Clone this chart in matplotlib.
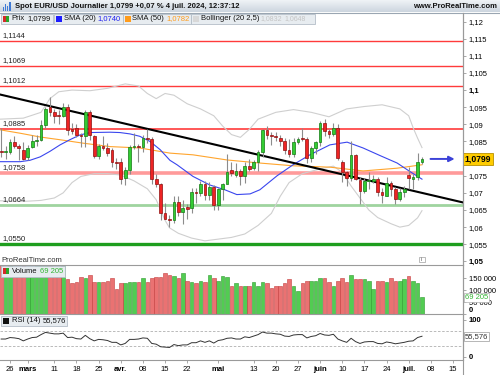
import matplotlib
matplotlib.use("Agg")
import matplotlib.pyplot as plt
import matplotlib.transforms as mtrans
from matplotlib.patches import Rectangle
from matplotlib.colors import LinearSegmentedColormap
import numpy as np

plt.rcParams['font.family'] = ['Liberation Sans', 'DejaVu Sans']

# trading day index, 0 = Mon 26 Feb 2024, 93 = Thu 4 Jul 2024
day = np.arange(-2, 94)

opens = [1.0822, 1.0818, 1.0820, 1.0849, 1.0837, 1.0826, 1.0805, 1.0834, 1.0852, 1.0855,
         1.0898, 1.0950, 1.0936, 1.0926, 1.0925, 1.0950, 1.0887, 1.0890, 1.0868, 1.0865,
         1.0935, 1.0866, 1.0808, 1.0837, 1.0832, 1.0825, 1.0790, 1.0790, 1.0742, 1.0768,
         1.0835, 1.0837, 1.0834, 1.0860, 1.0856, 1.0740, 1.0725, 1.0642, 1.0625, 1.0620,
         1.0672, 1.0644, 1.0658, 1.0655, 1.0703, 1.0700, 1.0727, 1.0693, 1.0718, 1.0665,
         1.0712, 1.0727, 1.0766, 1.0752, 1.0765, 1.0748, 1.0779, 1.0772, 1.0789, 1.0818,
         1.0884, 1.0868, 1.0866, 1.0860, 1.0852, 1.0825, 1.0812, 1.0848, 1.0860, 1.0857,
         1.0801, 1.0830, 1.0847, 1.0903, 1.0880, 1.0872, 1.0890, 1.0790, 1.0762, 1.0742,
         1.0811, 1.0738, 1.0704, 1.0736, 1.0734, 1.0741, 1.0703, 1.0692, 1.0730, 1.0712,
         1.0681, 1.0703, 1.0752, 1.0740, 1.0746, 1.0791]
highs = [1.0888, 1.0838, 1.0857, 1.0865, 1.0842, 1.0848, 1.0840, 1.0868, 1.0868, 1.0912,
         1.0951, 1.0981, 1.0945, 1.0941, 1.0963, 1.0958, 1.0905, 1.0900, 1.0875, 1.0943,
         1.0942, 1.0870, 1.0842, 1.0865, 1.0845, 1.0830, 1.0803, 1.0802, 1.0775, 1.0840,
         1.0876, 1.0842, 1.0868, 1.0885, 1.0864, 1.0756, 1.0730, 1.0670, 1.0634, 1.0690,
         1.0690, 1.0678, 1.0668, 1.0713, 1.0714, 1.0734, 1.0735, 1.0732, 1.0723, 1.0715,
         1.0728, 1.0812, 1.0790, 1.0788, 1.0770, 1.0790, 1.0800, 1.0797, 1.0826, 1.0887,
         1.0895, 1.0879, 1.0878, 1.0870, 1.0860, 1.0858, 1.0859, 1.0863, 1.0889, 1.0863,
         1.0838, 1.0852, 1.0910, 1.0915, 1.0885, 1.0903, 1.0902, 1.0795, 1.0765, 1.0852,
         1.0814, 1.0745, 1.0742, 1.0761, 1.0752, 1.0746, 1.0715, 1.0745, 1.0735, 1.0718,
         1.0715, 1.0720, 1.0776, 1.0754, 1.0815, 1.0804]
lows = [1.0805, 1.0800, 1.0813, 1.0832, 1.0796, 1.0796, 1.0797, 1.0830, 1.0838, 1.0850,
        1.0890, 1.0925, 1.0905, 1.0900, 1.0920, 1.0868, 1.0873, 1.0862, 1.0835, 1.0835,
        1.0855, 1.0802, 1.0800, 1.0825, 1.0808, 1.0775, 1.0770, 1.0726, 1.0724, 1.0754,
        1.0827, 1.0791, 1.0820, 1.0845, 1.0727, 1.0716, 1.0622, 1.0623, 1.0601, 1.0612,
        1.0632, 1.0610, 1.0623, 1.0640, 1.0671, 1.0690, 1.0678, 1.0678, 1.0650, 1.0650,
        1.0680, 1.0725, 1.0750, 1.0745, 1.0723, 1.0728, 1.0763, 1.0768, 1.0765, 1.0806,
        1.0856, 1.0840, 1.0850, 1.0836, 1.0813, 1.0805, 1.0805, 1.0843, 1.0850, 1.0788,
        1.0790, 1.0812, 1.0836, 1.0865, 1.0860, 1.0866, 1.0797, 1.0733, 1.0721, 1.0735,
        1.0738, 1.0668, 1.0700, 1.0710, 1.0730, 1.0690, 1.0670, 1.0690, 1.0690, 1.0667,
        1.0677, 1.0688, 1.0710, 1.0710, 1.0738, 1.0785]
closes = [1.0818, 1.0822, 1.0849, 1.0837, 1.0830, 1.0799, 1.0832, 1.0852, 1.0854, 1.0898,
          1.0946, 1.0937, 1.0925, 1.0925, 1.0950, 1.0882, 1.0880, 1.0868, 1.0865, 1.0935,
          1.0868, 1.0808, 1.0836, 1.0832, 1.0815, 1.0790, 1.0788, 1.0741, 1.0768, 1.0835,
          1.0837, 1.0834, 1.0860, 1.0856, 1.0740, 1.0725, 1.0642, 1.0625, 1.0620, 1.0672,
          1.0644, 1.0655, 1.0654, 1.0703, 1.0700, 1.0727, 1.0693, 1.0718, 1.0665, 1.0712,
          1.0725, 1.0760, 1.0758, 1.0765, 1.0748, 1.0779, 1.0770, 1.0790, 1.0818, 1.0883,
          1.0868, 1.0865, 1.0862, 1.0852, 1.0825, 1.0812, 1.0848, 1.0858, 1.0857, 1.0801,
          1.0830, 1.0848, 1.0903, 1.0880, 1.0872, 1.0888, 1.0802, 1.0762, 1.0743, 1.0811,
          1.0740, 1.0704, 1.0736, 1.0737, 1.0741, 1.0703, 1.0693, 1.0730, 1.0712, 1.0681,
          1.0703, 1.0711, 1.0742, 1.0746, 1.0791, 1.0799]

volume = [200000, 190000, 205000, 198000, 195000, 210000, 192000, 188000, 200000, 205000,
          215000, 210000, 195000, 190000, 200000, 145000, 128000, 135000, 155000, 150000,
          165000, 135000, 135000, 135000, 140000, 150000, 105000, 128000, 128000, 135000,
          135000, 135000, 150000, 133000, 152000, 155000, 155000, 170000, 163000, 157000,
          150000, 170000, 140000, 135000, 128000, 138000, 135000, 163000, 150000, 140000,
          157000, 155000, 117000, 128000, 117000, 117000, 117000, 133000, 117000, 133000,
          128000, 108000, 117000, 117000, 128000, 145000, 117000, 95000, 128000, 138000,
          140000, 138000, 150000, 150000, 135000, 117000, 140000, 150000, 135000, 163000,
          145000, 145000, 145000, 140000, 104000, 138000, 138000, 135000, 150000, 138000,
          140000, 145000, 160000, 140000, 128000, 69205]

rsi = [48, 48, 52, 51, 49, 43, 48, 52, 53, 60, 66, 64, 62, 62, 64, 52, 53, 49, 48, 58,
       49, 43, 47, 46, 44, 39, 39, 32, 36, 47, 47, 48, 51, 50, 36, 34, 27, 26, 25, 33,
       30, 32, 32, 38, 38, 43, 39, 43, 37, 44, 46, 50, 51, 48, 48, 54, 52, 56, 60, 67,
       64, 64, 62, 61, 56, 55, 59, 60, 60, 51, 55, 57, 63, 59, 58, 61, 48, 43, 39, 50,
       41, 36, 40, 41, 41, 36, 35, 40, 38, 35, 37, 39, 42, 43, 52, 55.576]

# indicator lines at a few days
sma20_day = [-2.26, 2.3, 4.5, 6.8, 9.0, 11.3, 13.5, 15.8, 18.1, 22.6, 24.8, 27.1, 29.3,
             31.6, 33.9, 36.1, 37.7, 41.3, 45.1, 48.5, 51.2, 54.2, 56.4, 60.3, 63.9, 67.7,
             72.2, 76.1, 79.7, 83.5, 87.4, 90.3, 93]
sma20_val = [1.0791, 1.0791, 1.0795, 1.0805, 1.0821, 1.0840, 1.0855, 1.0869, 1.0876,
             1.0877, 1.0876, 1.0872, 1.0865, 1.0850, 1.0826, 1.0795, 1.0782, 1.0748,
             1.0723, 1.0709, 1.0695, 1.0697, 1.0709, 1.0750, 1.0782, 1.0811, 1.0840,
             1.0848, 1.0831, 1.0809, 1.0787, 1.0762, 1.0740]
sma50_day = [-2.26, 2.3, 6.8, 11.3, 16.5, 22.6, 29.3, 36.1, 41.3, 49, 56.4, 63.9, 72.2,
             79.7, 87.4, 93]
sma50_val = [1.0884, 1.0874, 1.0863, 1.0855, 1.0845, 1.0835, 1.0831, 1.0816, 1.0811,
             1.0796, 1.0787, 1.0779, 1.0775, 1.0764, 1.0772, 1.0782]
boll_up_day = [-2.26, 3, 7, 9, 11, 14, 18, 22, 26, 29, 31, 33, 35, 37, 40, 43, 46, 48,
               50, 52, 54, 56, 60, 64, 68, 72, 76, 80, 84, 88, 90, 91, 92, 93]
boll_up_val = [1.0915, 1.0918, 1.0935, 1.0975, 1.0995, 1.1000, 1.0998, 1.1005, 1.1018,
               1.1012, 1.0990, 1.0975, 1.0990, 1.0985, 1.0960, 1.0945, 1.0925, 1.0895,
               1.0870, 1.0862, 1.0885, 1.0915, 1.0935, 1.0943, 1.0935, 1.0922, 1.0945,
               1.0952, 1.0957, 1.0945, 1.0925, 1.0890, 1.0860, 1.0832]
boll_lo_day = [-2.26, 3, 7, 10, 12, 14, 16, 19, 22, 25, 28, 31, 33, 34, 35, 36, 38, 41,
               44, 47, 50, 53, 56, 59, 61, 63, 66, 70, 73, 75, 77, 79, 81, 83, 86, 88, 90,
               92, 93]
boll_lo_val = [1.0677, 1.0675, 1.0678, 1.0685, 1.0700, 1.0730, 1.0748, 1.0756, 1.0756,
               1.0752, 1.0735, 1.0712, 1.0680, 1.0650, 1.0620, 1.0598, 1.0582, 1.0568,
               1.0560, 1.0565, 1.0570, 1.0580, 1.0605, 1.0640, 1.0690, 1.0730, 1.0756,
               1.0770, 1.0778, 1.0760, 1.0720, 1.0685, 1.0650, 1.0628, 1.0610, 1.0600,
               1.0605, 1.0627, 1.0648]

# horizontal levels and trend line drawn on the chart
levels = [1.1144, 1.1069, 1.1012, 1.0885, 1.0758, 1.0664, 1.0550]
level_labels = ['1,1144', '1,1069', '1,1012', '1,0885', '1,0758', '1,0664', '1,0550']
trend_day = [-2.26, 102.26]
trend_price = [1.0987, 1.0672]

last_price = 1.0799
tick_days = [0, 4, 10, 15, 20, 25, 30, 35, 40, 47, 55, 60, 65, 70, 75, 80, 85, 90, 95, 100]
tick_labels = ['26', 'mars', '11', '18', '25', 'avr.', '08', '15', '22', 'mai', '13', '20',
               '27', 'juin', '10', '17', '24', 'juil.', '08', '15']
month_labels = ['mars', 'avr.', 'mai', 'juin', 'juil.']

o = np.array(opens); h = np.array(highs); l = np.array(lows); c = np.array(closes)
up = c >= o

W, H = 500, 375
fig = plt.figure(figsize=(5, 3.75), dpi=100)
fig.patch.set_facecolor('white')

def frac(x0, y0, x1, y1):
    return [x0 / W, 1 - y1 / H, (x1 - x0) / W, (y1 - y0) / H]

ax = fig.add_axes(frac(0, 12.5, 463, 265))
ax_v = fig.add_axes(frac(0, 265, 463, 314))
ax_r = fig.add_axes(frac(0, 314, 463, 360))
FS = 5.5
AXC = '#9a9a9a'

for a in (ax, ax_v, ax_r):
    a.set_xlim(-2.26, 102.26)
    for s in ('left', 'top', 'bottom'):
        a.spines[s].set_visible(False)
    a.spines['right'].set_color(AXC)
    a.spines['right'].set_linewidth(0.8)
    a.yaxis.tick_right()
    a.tick_params(axis='y', direction='out', length=2.5, width=0.6, color=AXC,
                  labelsize=FS, pad=1.5)
    a.tick_params(axis='x', bottom=False, labelbottom=False)
ax_v.spines['top'].set_visible(True)
ax_v.spines['top'].set_color(AXC)
ax_r.spines['top'].set_visible(True)
ax_r.spines['top'].set_color(AXC)
ax_r.spines['bottom'].set_visible(True)
ax_r.spines['bottom'].set_color(AXC)

# ---- price pane
ax.set_ylim(1.04895, 1.12263)
ptick = np.round(np.arange(1.05, 1.1201, 0.005), 3)
ax.set_yticks(ptick)
plabels = []
for v in ptick:
    s = ('%.3f' % v).rstrip('0').replace('.', ',')
    # 1,08 sits under the last price tag
    plabels.append('' if abs(v - 1.08) < 1e-9 else s)
ax.set_yticklabels(plabels)
for v, t in zip(ptick, ax.get_yticklabels()):
    if abs(v - 1.1) < 1e-9 or abs(v - 1.05) < 1e-9:
        t.set_fontweight('bold')

lvl_style = [('#ff3b3b', 1.0), ('#ff3b3b', 1.0), ('#ff3b3b', 1.0), ('#ff2a2a', 1.1),
             ('#ff9a9a', 2.6), ('#9fd49f', 2.0), ('#1e9e1e', 2.4)]
lbl_tr = mtrans.blended_transform_factory(ax.transAxes, ax.transData)
for lv, lab, (col, lw) in zip(levels, level_labels, lvl_style):
    ax.axhline(lv, color=col, lw=lw, zorder=1)
    ax.text(0.006, lv + 0.0006, lab, transform=lbl_tr, fontsize=FS, color='#222222',
            va='bottom', ha='left', zorder=6)

ax.plot(boll_up_day, boll_up_val, color='#cfcfcf', lw=0.8, zorder=2)
ax.plot(boll_lo_day, boll_lo_val, color='#cfcfcf', lw=0.8, zorder=2)
ax.plot(sma50_day, sma50_val, color='#ffa52e', lw=0.8, zorder=3)
ax.plot(sma20_day, sma20_val, color='#3a46ee', lw=0.8, zorder=3)
ax.plot(trend_day, trend_price, color='black', lw=1.5, zorder=3)

ax.vlines(day, l, h, color='#8c8c8c', lw=0.8, zorder=4)
body = np.maximum(np.abs(c - o), 0.00012)
ax.bar(day[up], body[up], bottom=np.minimum(o, c)[up], width=0.62, color='#33cc33',
       edgecolor='#137a13', lw=0.5, zorder=5)
ax.bar(day[~up], body[~up], bottom=np.minimum(o, c)[~up], width=0.62, color='#ee2424',
       edgecolor='#8e1010', lw=0.5, zorder=5)

ax.annotate('', xy=(101.0, last_price), xytext=(94.3, last_price),
            arrowprops=dict(arrowstyle='-|>', color='#3c42d8', lw=1.4, mutation_scale=8),
            zorder=6)
ax.text(1.004, last_price, '1,0799', transform=lbl_tr, fontsize=6.2, fontweight='bold',
        va='center', ha='left', clip_on=False,
        bbox=dict(boxstyle='square,pad=0.2', fc='#ffcc00', ec='#b89000', lw=0.6))

# ---- volume pane
ax_v.set_ylim(0, 205000)
ax_v.set_yticks([0, 50000, 100000, 150000])
ax_v.set_yticklabels(['0', '50 000', '100 000', '150 000'])
zero_lbl = ax_v.get_yticklabels()[0]
zero_lbl.set_fontweight('bold')
zero_lbl.set_verticalalignment('bottom')
vol = np.array(volume)
ax_v.bar(day[up], vol[up], width=0.8, color='#52cc52', edgecolor='#2c9a2c', lw=0.4)
ax_v.bar(day[~up], vol[~up], width=0.8, color='#ea7272', edgecolor='#c43c3c', lw=0.4)
vtr = mtrans.blended_transform_factory(ax_v.transAxes, ax_v.transData)
ax_v.text(1.004, volume[-1], '69 205', transform=vtr, fontsize=FS, color='#33b533',
          va='center', ha='left', clip_on=False,
          bbox=dict(boxstyle='square,pad=0.15', fc='white', ec='#b0b0b0', lw=0.5))

# ---- RSI pane
ax_r.set_ylim(-9, 116)
ax_r.set_yticks([0, 100])
ax_r.set_yticklabels(['0', '100'], fontweight='bold')
ax_r.axhline(70, color='#b0b0b0', lw=0.6, ls=(0, (3, 2)))
ax_r.axhline(30, color='#b0b0b0', lw=0.6, ls=(0, (3, 2)))
ax_r.plot(day, rsi, color='#333333', lw=0.7)
rtr = mtrans.blended_transform_factory(ax_r.transAxes, ax_r.transData)
ax_r.text(1.004, rsi[-1], '55,576', transform=rtr, fontsize=FS, color='#333333',
          va='center', ha='left', clip_on=False,
          bbox=dict(boxstyle='square,pad=0.15', fc='white', ec='#9a9a9a', lw=0.5))
ax_r.set_xticks(tick_days)
ax_r.set_xticklabels(tick_labels)
ax_r.tick_params(axis='x', bottom=True, labelbottom=True, direction='out', length=2.5,
                 width=0.6, color=AXC, labelsize=FS, pad=1.5)
for t in ax_r.get_xticklabels():
    if t.get_text() in month_labels:
        t.set_fontweight('bold')

# ---- overlay: title bar, legends, captions
ov = fig.add_axes([0, 0, 1, 1], zorder=10)
ov.axis('off')
grad = LinearSegmentedColormap.from_list('bar', ['#f2f5f8', '#cdd6df'])
ov.imshow(np.linspace(0, 1, 16).reshape(-1, 1), cmap=grad, extent=[0, 500, 12.5, 0],
          aspect='auto', zorder=0)
ov.plot([0, 500], [12.5, 12.5], color='#9aa6b2', lw=0.8)
ov.plot([463, 463], [12.5, 375], color=AXC, lw=0.8)
for k, hh in enumerate([4, 7, 5, 9]):
    ov.add_patch(Rectangle((2.5 + k * 2.2, 10.5 - hh), 1.4, hh, color='#3f7ad6', lw=0))
ov.text(15, 6.6, 'Spot EUR/USD Journalier 1,0799 +0,07 % 4 juil. 2024, 12:37:12',
        fontsize=FS, fontweight='bold', va='center', ha='left', color='#111111')
ov.text(497, 6.6, 'www.ProRealTime.com', fontsize=FS, fontweight='bold', va='center',
        ha='right', color='#111111')


def box(x0, x1, y0, y1):
    ov.add_patch(Rectangle((x0, y0), x1 - x0, y1 - y0, fc='#e7ecf0', ec='#b4bec8',
                           lw=0.6, zorder=2))


def icon(x, y, cols):
    n = len(cols)
    for k, col in enumerate(cols):
        ov.add_patch(Rectangle((x + k * 6 / n, y), 6 / n, 6, fc=col, ec='none', zorder=3))


def label(x, y, s, col='#111111', size=FS):
    ov.text(x, y, s, fontsize=size, color=col, va='center', ha='left', zorder=4)


ly = 18.5
box(0.5, 53, 13.5, 23.5)
icon(3, 15.5, ['#d42a2a', '#2aa52a'])
label(11.5, ly, 'Prix'); label(27.5, ly, '1,0799')
box(53.5, 122.5, 13.5, 23.5)
icon(56, 15.5, ['#1c1cff'])
label(64, ly, 'SMA (20)'); label(97, ly, '1,0740', '#2020ee')
box(123, 190.5, 13.5, 23.5)
icon(125, 15.5, ['#ff9c1c'])
label(132.5, ly, 'SMA (50)'); label(166, ly, '1,0782', '#ff9c1c')
box(191, 315, 13.5, 23.5)
icon(193, 15.5, ['#d8d8d8'])
label(201, ly, 'Bollinger (20 2,5)')
label(260, ly, '1,0832', '#c4c4c4', 5.0); label(284, ly, '1,0648', '#c4c4c4', 5.0)

box(0.5, 65, 266, 276.5)
icon(3, 268.3, ['#d42a2a', '#2aa52a'])
label(11.5, 271.3, 'Volume'); label(40, 271.3, '69 205', '#33b533')
box(0.5, 67, 315.5, 326)
icon(3, 317.7, ['#111111'])
label(11.5, 320.8, 'RSI (14)'); label(42.5, 320.8, '55,576')

ov.text(1, 260.3, 'ProRealTime.com', fontsize=FS, color='#333333', va='center', ha='left')
ov.add_patch(Rectangle((419, 256.5), 5.5, 5.5, fc='white', ec='#a0a0a0', lw=0.5, zorder=3))
ov.text(421.75, 259.4, 'i', fontsize=4.5, color='#666666', va='center', ha='center', zorder=4)

ov.set_xlim(0, 500)
ov.set_ylim(375, 0)

fig.savefig('out.png', dpi=100)
